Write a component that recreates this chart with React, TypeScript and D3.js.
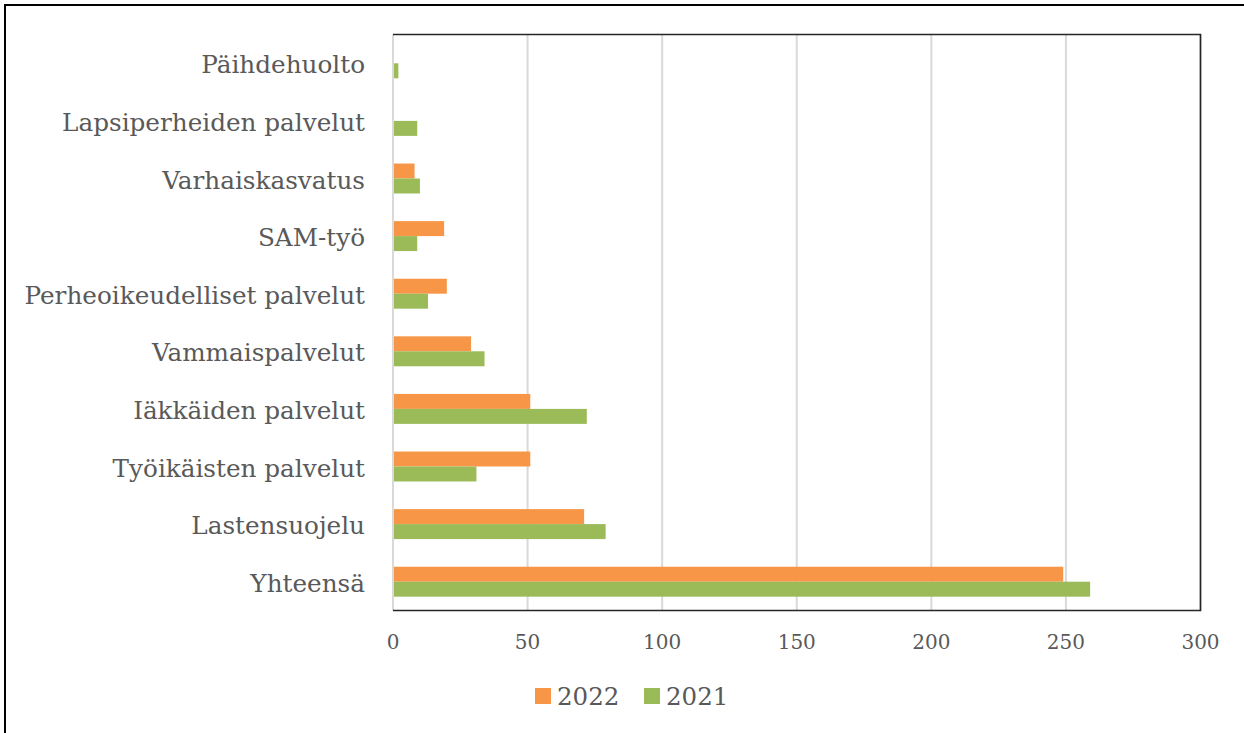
import React from "react";
import * as d3 from "d3";

// Categories listed top to bottom
const categories = [
  "Päihdehuolto",
  "Lapsiperheiden palvelut",
  "Varhaiskasvatus",
  "SAM-työ",
  "Perheoikeudelliset palvelut",
  "Vammaispalvelut",
  "Iäkkäiden palvelut",
  "Työikäisten palvelut",
  "Lastensuojelu",
  "Yhteensä",
];

const values2022 = [0, 0, 8, 19, 20, 29, 51, 51, 71, 249];
const values2021 = [2, 9, 10, 9, 13, 34, 72, 31, 79, 259];

const seriesNames = ["2022", "2021"];
const seriesColors = ["#F79646", "#9BBB59"];
const xTicks = [0, 50, 100, 150, 200, 250, 300];

const W = 1244;
const H = 733;
const plot = { left: 393, right: 1200.5, top: 34.5, bottom: 610.5 };
const FONT = "'DejaVu Serif', serif";
const TEXT = "#595959";

export default function App() {
  const x = d3.scaleLinear().domain([0, 300]).range([plot.left, plot.right]);
  const y = d3
    .scaleBand<string>()
    .domain(categories)
    .range([plot.top, plot.bottom])
    .paddingInner(0.48)
    .paddingOuter(0.24);
  const inner = d3
    .scaleBand<string>()
    .domain(seriesNames)
    .range([0, y.bandwidth()]);
  const series = [values2022, values2021];

  return (
    <svg
      width={W}
      height={H}
      style={{ position: "fixed", left: 0, top: 0, background: "#fff" }}
    >
      {/* outer frame */}
      <rect x={5} y={5} width={W + 10} height={H + 10} fill="none" stroke="#000" strokeWidth={2} />

      {/* vertical gridlines */}
      {xTicks.map((t) => (
        <line
          key={t}
          x1={x(t)}
          x2={x(t)}
          y1={plot.top}
          y2={plot.bottom}
          stroke="#d9d9d9"
          strokeWidth={2}
        />
      ))}

      {/* bars */}
      {categories.map((c, i) =>
        series.map((vals, s) => (
          <rect
            key={c + s}
            x={x(0) + 1}
            y={(y(c) as number) + (inner(seriesNames[s]) as number)}
            width={Math.max(0, x(vals[i]) - x(0) - 1)}
            height={inner.bandwidth()}
            fill={seriesColors[s]}
          />
        ))
      )}

      {/* plot area border: top, right, bottom */}
      <path
        d={`M${plot.left},${plot.top}H${plot.right}V${plot.bottom}H${plot.left}`}
        fill="none"
        stroke="#262626"
        strokeWidth={1.6}
      />

      {/* category labels */}
      {categories.map((c) => (
        <text
          key={c}
          x={365}
          y={(y(c) as number) + y.bandwidth() / 2 + 10}
          textAnchor="end"
          fontFamily={FONT}
          fontSize={24.7}
          fill={TEXT}
        >
          {c}
        </text>
      ))}

      {/* x tick labels */}
      {xTicks.map((t) => (
        <text
          key={t}
          x={x(t)}
          y={649}
          textAnchor="middle"
          fontFamily={FONT}
          fontSize={20}
          fill={TEXT}
        >
          {t}
        </text>
      ))}

      {/* legend */}
      {seriesNames.map((n, i) => (
        <g key={n} transform={`translate(${535 + i * 109},0)`}>
          <rect x={0} y={688} width={16} height={16} fill={seriesColors[i]} />
          <text x={22} y={705} fontFamily={FONT} fontSize={24.5} fill={TEXT}>
            {n}
          </text>
        </g>
      ))}
    </svg>
  );
}
